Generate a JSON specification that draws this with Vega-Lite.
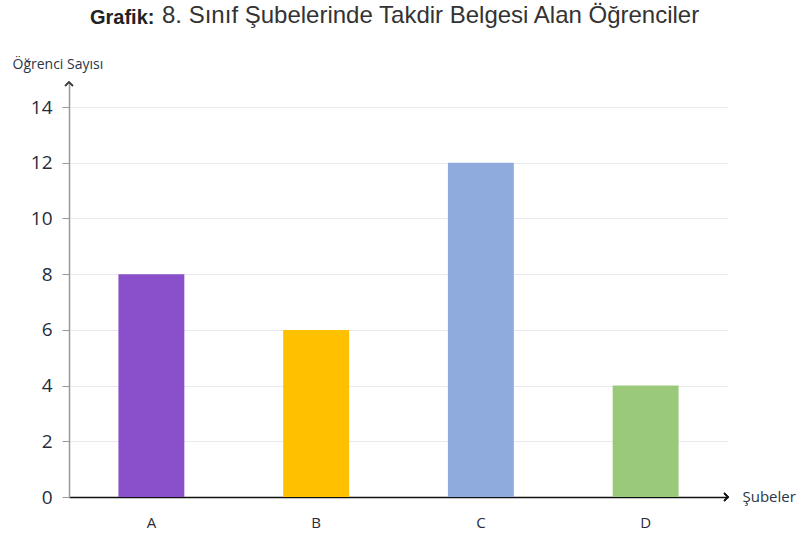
{
  "$schema": "https://vega.github.io/schema/vega-lite/v6.json",
  "width": 659,
  "height": 415,
  "padding": {"left": 69, "top": 82, "right": 84, "bottom": 45},
  "autosize": {"type": "none"},
  "background": "white",
  "config": {"view": {"stroke": null}},
  "title": {
    "text": "Grafik:",
    "subtitle": "\u2800\u2800\u2800\u28008. Sınıf Şubelerinde Takdir Belgesi Alan Öğrenciler",
    "font": "Liberation Sans",
    "subtitleFont": "Liberation Sans",
    "fontSize": 20,
    "subtitleFontSize": 24,
    "fontWeight": "bold",
    "subtitleFontWeight": "normal",
    "color": "#222222",
    "subtitleColor": "#333333",
    "anchor": "start",
    "frame": "group",
    "dx": 21,
    "offset": 0,
    "subtitlePadding": -21,
    "baseline": "alphabetic",
    "dy": -9
  },
  "data": {
    "values": [
      {"sube": "A", "sayi": 8},
      {"sube": "B", "sayi": 6},
      {"sube": "C", "sayi": 12},
      {"sube": "D", "sayi": 4}
    ]
  },
  "layer": [
    {
      "mark": {"type": "bar"},
      "encoding": {
        "x": {
          "field": "sube",
          "type": "nominal",
          "scale": {"paddingInner": 0.6, "paddingOuter": 0.3},
          "axis": {
            "title": "Şubeler",
            "titleFont": "Open Sans",
            "titleFontSize": 15,
            "titleFontWeight": "normal",
            "titleColor": "#2a3548",
            "titleAngle": 0,
            "titleAlign": "left",
            "titleBaseline": "middle",
            "titleX": 673,
            "titleY": -1,
            "labelAngle": 0,
            "labelFont": "Open Sans",
            "labelFontSize": 15,
            "labelColor": "#2a2a3a",
            "labelPadding": 18,
            "ticks": false,
            "domainColor": "#111111",
            "domainWidth": 1.5
          }
        },
        "y": {
          "field": "sayi",
          "type": "quantitative",
          "scale": {"domain": [0, 14.9], "nice": false},
          "axis": {
            "values": [0, 2, 4, 6, 8, 10, 12, 14],
            "title": "Öğrenci Sayısı",
            "titleFont": "Open Sans",
            "titleFontSize": 14,
            "titleFontWeight": "normal",
            "titleColor": "#2a3548",
            "titleAngle": 0,
            "titleAlign": "left",
            "titleBaseline": "alphabetic",
            "titleX": -57,
            "titleY": -14,
            "labelFont": "Open Sans",
            "labelFontSize": 19,
            "labelColor": "#1f2d3d",
            "labelPadding": 10,
            "tickSize": 7,
            "tickColor": "#999999",
            "domainColor": "#999999",
            "domainWidth": 1.5,
            "grid": true,
            "gridColor": "#e6eaef",
            "gridWidth": 1.2
          }
        },
        "color": {
          "field": "sube",
          "type": "nominal",
          "scale": {"domain": ["A", "B", "C", "D"], "range": ["#8A4FCB", "#FFC000", "#8FAADC", "#9BC97A"]},
          "legend": null
        }
      }
    },
    {
      "mark": {"type": "point", "shape": "M-1,-1L0,0L-1,1", "filled": false, "stroke": "#111111", "strokeWidth": 1.5, "size": 60},
      "encoding": {
        "x": {"value": "width"},
        "y": {"datum": 0}
      }
    },
    {
      "mark": {"type": "point", "shape": "M-1,1L0,0L1,1", "filled": false, "stroke": "#444444", "strokeWidth": 1.5, "size": 60},
      "encoding": {
        "x": {"value": 0},
        "y": {"datum": 14.9}
      }
    }
  ]
}
